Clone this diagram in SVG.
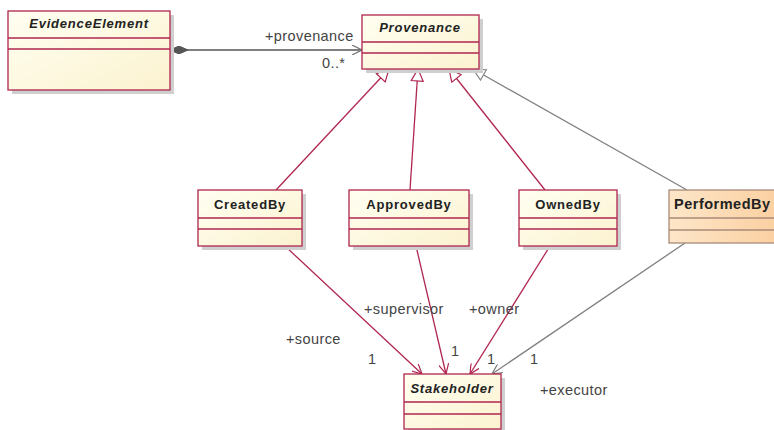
<svg xmlns="http://www.w3.org/2000/svg" width="774" height="430" viewBox="0 0 774 430">
<defs>
<linearGradient id="gy" x1="0" y1="0" x2="1" y2="1"><stop offset="0" stop-color="#fffff2"/><stop offset="1" stop-color="#fbf2cf"/></linearGradient>
<linearGradient id="go" x1="0" y1="0" x2="1" y2="0"><stop offset="0" stop-color="#fde6c8"/><stop offset="1" stop-color="#fbcfa0"/></linearGradient>
<marker id="openR" viewBox="0 0 10 10" refX="10" refY="5" markerWidth="10" markerHeight="10" markerUnits="userSpaceOnUse" orient="auto"><path d="M0,0 L10,5 L0,10" fill="none" stroke="#b0264f" stroke-width="1.2"/></marker>
<marker id="openG" viewBox="0 0 10 10" refX="10" refY="5" markerWidth="10" markerHeight="10" markerUnits="userSpaceOnUse" orient="auto"><path d="M0,0 L10,5 L0,10" fill="none" stroke="#777" stroke-width="1.2"/></marker>
<marker id="triR" viewBox="0 0 14 14" refX="13" refY="7" markerWidth="14" markerHeight="14" markerUnits="userSpaceOnUse" orient="auto"><path d="M1,1 L13,7 L1,13 Z" fill="#fff" stroke="#b0264f" stroke-width="1.2"/></marker>
<marker id="triG" viewBox="0 0 14 14" refX="13" refY="7" markerWidth="14" markerHeight="14" markerUnits="userSpaceOnUse" orient="auto"><path d="M1,1 L13,7 L1,13 Z" fill="#fff" stroke="#888" stroke-width="1.2"/></marker>
<marker id="dia" viewBox="0 0 18 8" refX="0" refY="4" markerWidth="18" markerHeight="8" markerUnits="userSpaceOnUse" orient="auto"><path d="M0,4 L9,0 L18,4 L9,8 Z" fill="#555" stroke="#555"/></marker>
</defs>
<style>
.box{fill:url(#gy);stroke:#b0264f;stroke-width:1.3}
.boxo{fill:url(#go);stroke:#a88a78;stroke-width:1.3}
.sh{fill:#cfcfcf}
.dv{stroke:#b0264f;stroke-width:1.3}
.dvo{stroke:#a88a78;stroke-width:1.3}
.t{font-family:"Liberation Sans",Arial,sans-serif;font-size:13px;letter-spacing:0.8px;font-weight:bold;fill:#222;text-anchor:middle}
.ti{font-style:italic}
.lb{font-family:"Liberation Sans",Arial,sans-serif;font-size:14.5px;letter-spacing:0.4px;fill:#444}
.r{stroke:#b0264f;stroke-width:1.3;fill:none}
.g{stroke:#808080;stroke-width:1.3;fill:none}
.a{stroke:#555;stroke-width:1.3;fill:none}
</style>
<rect width="774" height="430" fill="#fff"/>
<g id="connectors">
<line class="a" x1="170" y1="50" x2="362" y2="50" marker-start="url(#dia)" marker-end="url(#openG)"/>
<line class="r" x1="276" y1="190" x2="389" y2="69" marker-end="url(#triR)"/>
<line class="r" x1="410" y1="190" x2="418" y2="69" marker-end="url(#triR)"/>
<line class="r" x1="545" y1="190" x2="449" y2="69" marker-end="url(#triR)"/>
<line class="g" x1="687" y1="190" x2="473" y2="69" marker-end="url(#triG)"/>
<line class="r" x1="285" y1="246" x2="422" y2="374" marker-end="url(#openR)"/>
<line class="r" x1="416" y1="246" x2="446" y2="374" marker-end="url(#openR)"/>
<line class="r" x1="550" y1="246" x2="470" y2="374" marker-end="url(#openR)"/>
<line class="g" x1="685" y1="243" x2="492" y2="374" marker-end="url(#openG)"/>
<text class="lb" x="265" y="41">+provenance</text>
<text class="lb" x="322" y="68">0..*</text>
<text class="lb" x="286" y="344">+source</text>
<text class="lb" x="368" y="364">1</text>
<text class="lb" x="364" y="314">+supervisor</text>
<text class="lb" x="451" y="356">1</text>
<text class="lb" x="469" y="314">+owner</text>
<text class="lb" x="487" y="364">1</text>
<text class="lb" x="530" y="364">1</text>
<text class="lb" x="540" y="395">+executor</text>
</g>
<g id="EvidenceElement">
<rect class="sh" x="12" y="15" width="162" height="79"/>
<rect class="box" x="8" y="11" width="162" height="79"/>
<line class="dv" x1="8" y1="38" x2="170" y2="38"/><line class="dv" x1="8" y1="49" x2="170" y2="49"/>
<text class="t ti" x="89" y="28">EvidenceElement</text>
</g>
<g id="Provenance">
<rect class="sh" x="366" y="19" width="117" height="54"/>
<rect class="box" x="362" y="15" width="117" height="54"/>
<line class="dv" x1="362" y1="42" x2="479" y2="42"/><line class="dv" x1="362" y1="53" x2="479" y2="53"/>
<text class="t ti" x="420" y="32">Provenance</text>
</g>
<g id="CreatedBy">
<rect class="sh" x="202" y="194" width="104" height="56"/>
<rect class="box" x="198" y="190" width="104" height="56"/>
<line class="dv" x1="198" y1="218" x2="302" y2="218"/><line class="dv" x1="198" y1="229" x2="302" y2="229"/>
<text class="t" x="250" y="209">CreatedBy</text>
</g>
<g id="ApprovedBy">
<rect class="sh" x="353" y="194" width="120" height="56"/>
<rect class="box" x="349" y="190" width="120" height="56"/>
<line class="dv" x1="349" y1="218" x2="469" y2="218"/><line class="dv" x1="349" y1="229" x2="469" y2="229"/>
<text class="t" x="409" y="209">ApprovedBy</text>
</g>
<g id="OwnedBy">
<rect class="sh" x="523" y="194" width="98" height="56"/>
<rect class="box" x="519" y="190" width="98" height="56"/>
<line class="dv" x1="519" y1="218" x2="617" y2="218"/><line class="dv" x1="519" y1="229" x2="617" y2="229"/>
<text class="t" x="568" y="209">OwnedBy</text>
</g>
<g id="PerformedBy">
<rect class="boxo" x="669" y="190" width="112" height="53"/>
<line class="dvo" x1="669" y1="218" x2="781" y2="218"/><line class="dvo" x1="669" y1="230" x2="781" y2="230"/>
<text class="t" x="674" y="209" style="text-anchor:start;font-size:14.5px;letter-spacing:0.5px">PerformedBy</text>
</g>
<g id="Stakeholder">
<rect class="sh" x="408" y="378" width="97" height="56"/>
<rect class="box" x="404" y="374" width="97" height="55"/>
<line class="dv" x1="404" y1="402" x2="501" y2="402"/><line class="dv" x1="404" y1="414" x2="501" y2="414"/>
<text class="t ti" x="452" y="393">Stakeholder</text>
</g>
</svg>
